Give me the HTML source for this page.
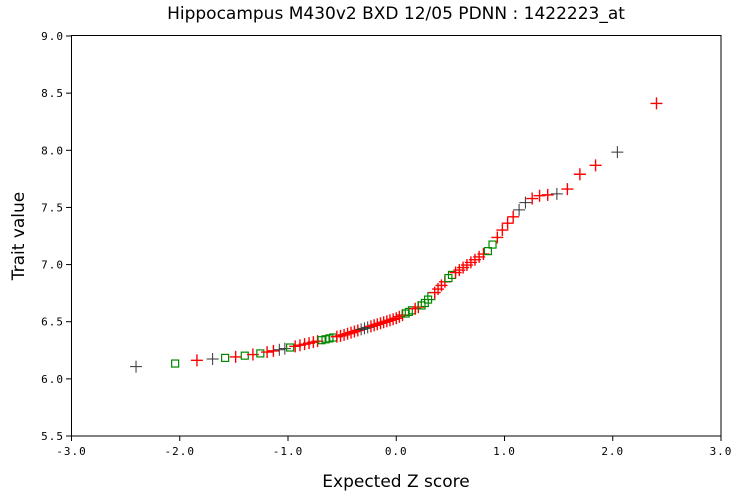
<!DOCTYPE html>
<html><head><meta charset="utf-8"><style>
body{margin:0;background:#fff;width:737px;height:497px;overflow:hidden;font-family:"DejaVu Sans","Liberation Sans",sans-serif}
</style></head><body>
<svg id="s" width="737" height="497" xmlns="http://www.w3.org/2000/svg">
<text x="396" y="19" text-anchor="middle" font-size="17" font-family="DejaVu Sans, sans-serif">Hippocampus M430v2 BXD 12/05 PDNN : 1422223_at</text>
<text x="396" y="487" text-anchor="middle" font-size="17" font-family="DejaVu Sans, sans-serif">Expected Z score</text>
<text transform="translate(24,236) rotate(-90)" text-anchor="middle" font-size="17" font-family="DejaVu Sans, sans-serif">Trait value</text>
<rect x="71.5" y="35.5" width="649.5" height="400.5" fill="none" stroke="#000" stroke-width="1"/>
<g id="g"></g>
</svg>
<script>
var g=document.getElementById('g'),h='';
function X(z){return 71.5+(z+3)*108.25}
function Y(v){return 36+(9-v)*114.29}
for(var i=0;i<=7;i++){var v=5.5+i*0.5,y=Y(v);h+='<line x1="66" x2="71.5" y1="'+y+'" y2="'+y+'" stroke="#000"/><text x="64" y="'+(y+4)+'" text-anchor="end" font-size="11" font-family="DejaVu Sans Mono,monospace" letter-spacing="1">'+v.toFixed(1)+'</text>';}
for(var i=0;i<=6;i++){var z=-3+i,x=X(z);h+='<line x1="'+x+'" x2="'+x+'" y1="436" y2="441" stroke="#000"/><text x="'+x+'" y="455" text-anchor="middle" font-size="11" font-family="DejaVu Sans Mono,monospace" letter-spacing="1">'+z.toFixed(1)+'</text>';}
function inv(p){var a=[-39.69683028665376,220.9460984245205,-275.9285104469687,138.357751867269,-30.66479806614716,2.506628277459239],b=[-54.47609879822406,161.5858368580409,-155.6989798598866,66.80131188771972,-13.28068155288572],c=[-0.007784894002430293,-0.3223964580411365,-2.400758559910419,-2.549732539343734,4.374664141464968,2.938163982698783],d=[0.007784695709041462,0.3224671290700398,2.445134137142996,3.754408661907416];var q,r;if(p<0.02425){q=Math.sqrt(-2*Math.log(p));return(((((c[0]*q+c[1])*q+c[2])*q+c[3])*q+c[4])*q+c[5])/((((d[0]*q+d[1])*q+d[2])*q+d[3])*q+1)}if(p>1-0.02425){q=Math.sqrt(-2*Math.log(1-p));return-(((((c[0]*q+c[1])*q+c[2])*q+c[3])*q+c[4])*q+c[5])/((((d[0]*q+d[1])*q+d[2])*q+d[3])*q+1)}q=p-0.5;r=q*q;return(((((a[0]*r+a[1])*r+a[2])*r+a[3])*r+a[4])*r+a[5])*q/(((((b[0]*r+b[1])*r+b[2])*r+b[3])*r+b[4])*r+1)}
var A=[[-2.5,6.1],[-2.07,6.13],[-1.87,6.16],[-1.5,6.19],[-1.27,6.22],[-1.0,6.27],[-0.5,6.38],[0,6.53],[0.25,6.65],[0.5,6.9],[0.85,7.12],[1.0,7.33],[1.2,7.55],[1.3,7.6],[1.5,7.62],[1.6,7.67],[1.72,7.82],[1.87,7.88],[2.07,8.0],[2.5,8.41]];
function F(z){for(var i=0;i<A.length-1;i++){if(z<=A[i+1][0]){var t=(z-A[i][0])/(A[i+1][0]-A[i][0]);return A[i][1]+t*(A[i+1][1]-A[i][1])}}return A[A.length-1][1]}
var N=85,sq=[-2.07,-1.6,-1.43,-1.27,-0.98,-0.65,-0.6,0.1,0.13,0.25,0.3,0.5,0.85],bk=[-1.73,-1.05,-0.3,1.17,1.5,2.07];
function near(z,L){for(var k=0;k<L.length;k++)if(Math.abs(L[k]-z)<0.04)return true;return false}
for(var i=1;i<=N;i++){var z=inv((i-0.375)/(N+0.25))*0.985,v=F(z),x=X(z),y=Y(v);
if(i==N)v=8.41,y=Y(v);
if(i==2||(i>2&&near(z,sq)))h+='<rect x="'+(x-3.5)+'" y="'+(y-3.5)+'" width="7" height="7" fill="none" stroke="#080" stroke-width="1.2"/>';
else{var col=(near(z,bk)||i==1||i==N-1)?'#333':'#f00',w=col=='#333'?1:1.4;h+='<path d="M'+(x-6)+' '+y+'h12M'+x+' '+(y-6)+'v12" stroke="'+col+'" stroke-width="'+w+'"/>';}}
g.innerHTML=h;
</script>
</body></html>
